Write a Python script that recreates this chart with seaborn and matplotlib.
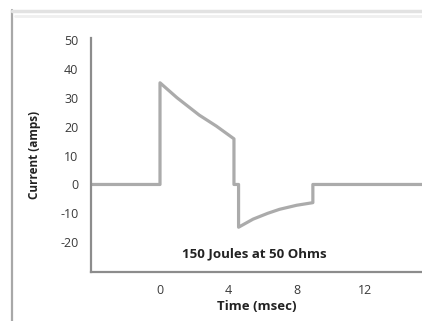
import matplotlib
matplotlib.use("Agg")
import matplotlib.pyplot as plt
import seaborn as sns
import pandas as pd
from matplotlib.lines import Line2D

# Data
time_ms = [-4.1, 0.0, 0.0, 1.0, 2.3, 3.3, 4.33, 4.33, 4.6, 4.6, 5.45, 6.3, 7.0, 8.0, 8.95, 8.95, 15.5]
current_amps = [0.0, 0.0, 35.2, 30.0, 24.0, 20.2, 15.8, 0.0, 0.0, -14.8, -12.0, -10.0, -8.6, -7.2, -6.3, 0.0, 0.0]
x_ticks = [0, 4, 8, 12]
y_ticks = [-20, -10, 0, 10, 20, 30, 40, 50]
annotation = "150 Joules at 50 Ohms"

df = pd.DataFrame({"Time (msec)": time_ms, "Current (amps)": current_amps})

sns.set_style("white")
plt.rcParams["font.family"] = ["Open Sans", "DejaVu Sans"]

W, H = 422, 321
fig = plt.figure(figsize=(W / 100, H / 100), dpi=100)
ax = fig.add_axes([91 / W, 1 - 272 / H, (422 - 91) / W, (272 - 38) / H])

sns.lineplot(data=df, x="Time (msec)", y="Current (amps)", sort=False,
             estimator=None, errorbar=None,
             color="#ababab", linewidth=2.3, ax=ax)

ax.set_xlim(-4.04, 15.34)
ax.set_ylim(-30.3, 50.7)
ax.set_xticks(x_ticks)
ax.set_yticks(y_ticks)
ax.set_xticklabels([str(v) for v in x_ticks])
ax.set_yticklabels([str(v) for v in y_ticks])

for s in ["top", "right"]:
    ax.spines[s].set_visible(False)
for s in ["left", "bottom"]:
    ax.spines[s].set_color("#8c8c8c")
    ax.spines[s].set_linewidth(1.6)

ax.tick_params(axis="y", direction="out", length=3, width=1, color="#8c8c8c",
               labelsize=9, labelcolor="#3a3a3a", pad=6)
ax.tick_params(axis="x", direction="inout", length=4, width=1, color="#8c8c8c",
               labelsize=9, labelcolor="#3a3a3a", pad=7)

ax.set_xlabel("Time (msec)", fontsize=9.5, fontweight="bold", color="#222222", labelpad=2)
ax.set_ylabel("Current (amps)", fontsize=8.5, fontweight="bold", color="#222222", labelpad=14)

ax.text(5.55, -24, annotation, ha="center", va="center", fontsize=9.5,
        fontweight="bold", color="#222222")

# scanned page border
fig.add_artist(Line2D([11.5 / W, 11.5 / W], [0, 1 - 10 / H], transform=fig.transFigure,
                      color="#a8a8a8", linewidth=1.6))
fig.add_artist(Line2D([11.5 / W, 1], [1 - 11 / H, 1 - 11 / H], transform=fig.transFigure,
                      color="#e2e2e2", linewidth=2.5))
fig.add_artist(Line2D([15 / W, 1], [1 - 16 / H, 1 - 16 / H], transform=fig.transFigure,
                      color="#efefef", linewidth=2))

fig.savefig("out.png", dpi=100)
